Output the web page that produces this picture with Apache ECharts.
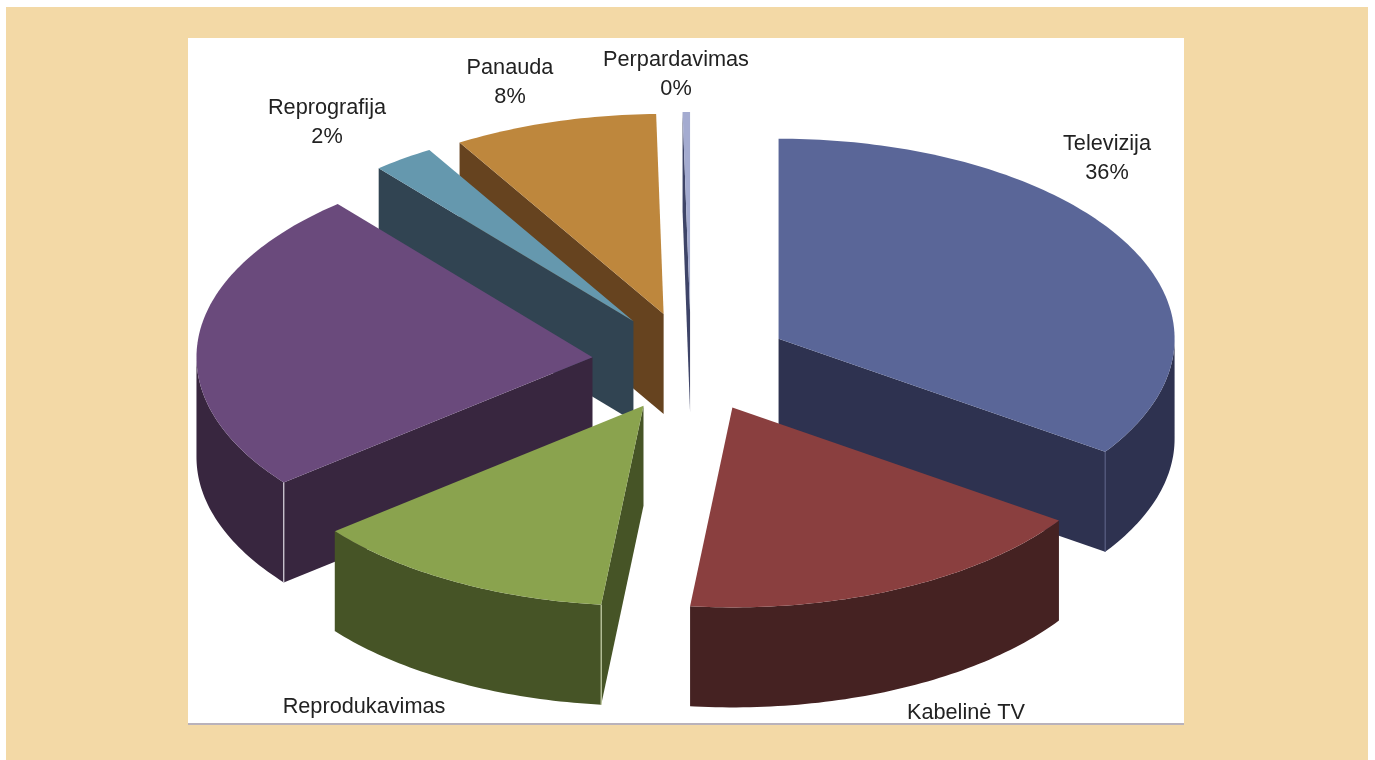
<!DOCTYPE html>
<html>
<head>
<meta charset="utf-8">
<title>Pajamos</title>
<script src="https://cdn.jsdelivr.net/npm/echarts@6/dist/echarts.min.js"></script>
<style>
  html, body { margin: 0; height: 100%; background: #fff; }
  #chart { width: 1375px; height: 760px; }
</style>
</head>
<body>
<div id="chart"></div>
<script>
const sliceNames = ['Televizija', 'Kabelinė TV', 'Reprodukavimas', '', 'Reprografija', 'Panauda', 'Perpardavimas']
// printed percentages; cropped or missing ones stay null
const printedPercents = [36, null, null, null, 2, 8, 0]
// share of the circle each slice takes as drawn in the picture
const sliceShares = [34.5, 17.1, 12.5, 24.6, 2.5, 8.3, 0.3]

const topColors = ['#5a6698', '#8a3f3f', '#8aa34e', '#6a4a7c', '#6598ae', '#be873d', '#a4abd0']
const sideColors = ['#2e3250', '#452222', '#465426', '#38263f', '#314452', '#66431f', '#3e4468']
const cornerColors = ['#555b80', null, '#c9d2ab', '#d8d4de', null, null, null]

// centre x, middle of first line y of each label
const labelSpots = [[1107, 144], [966, 713], [364, 707], null, [327, 108], [510, 68], [676, 60]]

const pie = { cx: 691, cy: 362, rx: 396, ry: 200, depth: 100, explode: 0.25 }
const DEG = Math.PI / 180

const total = sliceShares.reduce((a, b) => a + b, 0)
let run = 0
const sliceData = sliceShares.map((share) => {
  const start = (run / total) * 360
  run += share
  return [share, start, (run / total) * 360]
})

function renderSlice(params, api) {
  const i = params.dataIndex
  const a0 = api.value(1)
  const a1 = api.value(2)
  const mid = ((a0 + a1) / 2) * DEG
  const ox = pie.cx + pie.explode * pie.rx * Math.sin(mid)
  const oy = pie.cy - pie.explode * pie.ry * Math.cos(mid)
  const rim = (deg, drop) => [
    ox + pie.rx * Math.sin(deg * DEG),
    oy - pie.ry * Math.cos(deg * DEG) + drop
  ]
  const depthRank = Math.round((1 - Math.cos(mid)) * 50) * 10
  const children = []

  const cutFace = (deg) => ({
    type: 'polygon',
    z2: depthRank,
    shape: { points: [[ox, oy], rim(deg, 0), rim(deg, pie.depth), [ox, oy + pie.depth]] },
    style: { fill: sideColors[i] }
  })
  if (Math.sin(a0 * DEG) < 0) children.push(cutFace(a0))
  if (Math.sin(a1 * DEG) > 0) children.push(cutFace(a1))

  // outer wall, only the part that faces the viewer
  const w0 = Math.max(a0, 90)
  const w1 = Math.min(a1, 270)
  if (w1 > w0) {
    const upper = []
    const lower = []
    for (let d = w0; d < w1; d += 1) {
      upper.push(rim(d, 0))
      lower.unshift(rim(d, pie.depth))
    }
    upper.push(rim(w1, 0))
    lower.unshift(rim(w1, pie.depth))
    children.push({
      type: 'polygon',
      z2: depthRank + 1,
      shape: { points: upper.concat(lower) },
      style: { fill: sideColors[i] }
    })
  }

  const top = [[ox, oy]]
  for (let d = a0; d < a1; d += 1) top.push(rim(d, 0))
  top.push(rim(a1, 0))
  children.push({
    type: 'polygon',
    z2: depthRank + 2,
    shape: { points: top },
    style: { fill: topColors[i] }
  })

  // thin pale line down the corner where cut face meets wall
  if (cornerColors[i]) {
    const cornerAngle = Math.sin(a1 * DEG) > 0 ? a1 : a0
    const p = rim(cornerAngle, 0)
    children.push({
      type: 'line',
      z2: depthRank + 3,
      shape: { x1: p[0], y1: p[1], x2: p[0], y2: p[1] + pie.depth },
      style: { stroke: cornerColors[i], lineWidth: 1.2 }
    })
  }
  return { type: 'group', children }
}

const labelElements = sliceNames.map((name, i) => {
  if (!labelSpots[i]) return null
  const pct = printedPercents[i]
  return {
    type: 'text',
    x: labelSpots[i][0],
    y: labelSpots[i][1] - 14,
    z: 5,
    style: {
      text: pct === null ? name : name + '\n' + pct + '%',
      fill: '#222222',
      font: '21.7px "Liberation Sans", Arial, sans-serif',
      lineHeight: 29,
      align: 'center',
      verticalAlign: 'top'
    }
  }
}).filter(Boolean)

const chart = echarts.init(document.getElementById('chart'), null, { renderer: 'canvas' })
chart.setOption({
  animation: false,
  graphic: [
    { type: 'rect', z: 0, shape: { x: 6, y: 7, width: 1362, height: 753 }, style: { fill: '#f3d9a6' } },
    { type: 'rect', z: 1, shape: { x: 188, y: 38, width: 996, height: 685 }, style: { fill: '#ffffff' } },
    { type: 'rect', z: 1, shape: { x: 188, y: 723, width: 996, height: 2 }, style: { fill: '#b9b2bb' } },
    ...labelElements
  ],
  series: [
    {
      type: 'custom',
      coordinateSystem: 'none',
      silent: true,
      data: sliceData,
      renderItem: renderSlice
    }
  ]
})
window.addEventListener('resize', () => chart.resize())
</script>
</body>
</html>
